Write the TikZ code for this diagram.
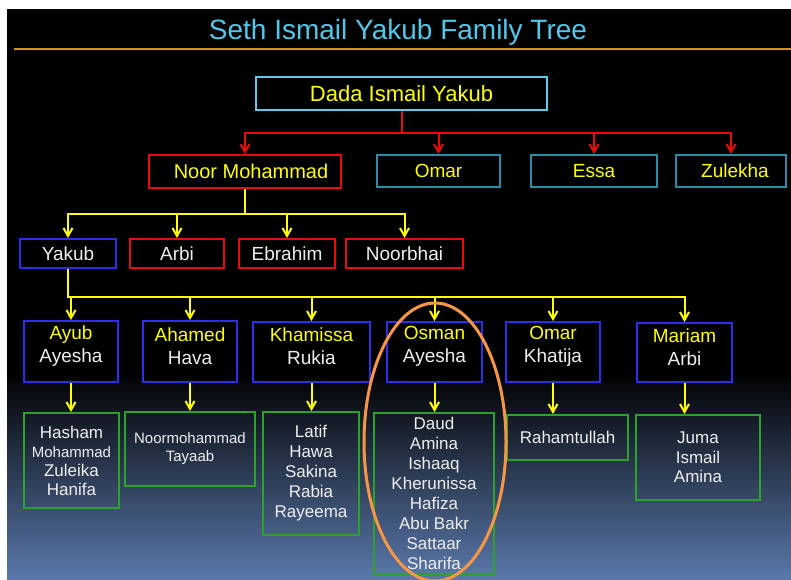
\documentclass[tikz,border=0pt]{standalone}
\usepackage{fontspec}
\setmainfont{Liberation Sans}
\usetikzlibrary{arrows.meta}

\definecolor{titlecyan}{RGB}{80,200,235}
\definecolor{rootcyan}{RGB}{90,205,235}
\definecolor{tealline}{RGB}{40,140,170}
\definecolor{treered}{RGB}{235,10,10}
\definecolor{treeyellow}{RGB}{255,255,0}
\definecolor{treeblue}{RGB}{45,45,235}
\definecolor{treegreen}{RGB}{45,160,45}
\definecolor{namewhite}{RGB}{238,238,238}
\definecolor{ringorange}{RGB}{247,150,70}
\definecolor{goldrule}{RGB}{205,150,25}
\definecolor{slatebottom}{RGB}{90,120,170}

\tikzset{every picture/.style={line width=0.75pt}}
\tikzset{
  famebox/.style={draw, line width=2, inner sep=0pt, align=center},
  rootbox/.style={famebox, draw=rootcyan, text=treeyellow, font=\fontsize{22}{26}\selectfont},
  sonbox/.style={famebox, draw=tealline, text=treeyellow, font=\fontsize{19}{23}\selectfont},
  noorbox/.style={famebox, draw=treered, text=treeyellow, font=\fontsize{20}{24}\selectfont},
  kinbox/.style={famebox, text=namewhite, font=\fontsize{19}{23}\selectfont},
  couplebox/.style={famebox, draw=treeblue},
  couplename/.style={inner sep=0pt, align=center, text=namewhite, font=\fontsize{19}{23}\selectfont},
  kidbox/.style={famebox, draw=treegreen, text=namewhite, font=\fontsize{17}{20}\selectfont},
  redlink/.style={draw=treered, line width=2, -{Straight Barb[length=8pt,width=9pt]}},
  yellink/.style={draw=treeyellow, line width=2, -{Straight Barb[length=8pt,width=9pt]}}
}

\begin{document}
\begin{tikzpicture}[x=1pt,y=-1pt]
\useasboundingbox (0,0) rectangle (791,579);
\fill[white] (0,0) rectangle (791,579);

%Shape: Background
\fill[black] (7,9) rectangle (791,579);
\shade[top color=black, bottom color=slatebottom] (7,372) rectangle (791,579);
%Straight Lines: title rule
\draw[goldrule, line width=1.5] (14,49) -- (791,49);

% Text Node
\node[inner sep=0pt, text=titlecyan, font=\fontsize{28}{32}\selectfont] (title) at (398,32) {Seth Ismail Yakub Family Tree};

%Shape: Rectangle -- first generation
\node[rootbox, minimum width=291, minimum height=33] (dada) at (401.5,93.5) {Dada Ismail Yakub};

%Shape: Rectangle -- second generation
\node[noorbox, minimum width=192, minimum height=33] (noor) at (245,171.5) {\hspace{12pt}Noor Mohammad};
\node[sonbox, minimum width=123, minimum height=32] (omar) at (438.5,171) {Omar};
\node[sonbox, minimum width=126, minimum height=32] (essa) at (594,171) {Essa};
\node[sonbox, minimum width=110, minimum height=32] (zulekha) at (731,171) {\hspace{8pt}Zulekha};

%Shape: Rectangle -- third generation
\node[kinbox, draw=treeblue, minimum width=96, minimum height=29] (yakub) at (68,253.5) {Yakub};
\node[kinbox, draw=treered, minimum width=94, minimum height=29] (arbi) at (177,253.5) {Arbi};
\node[kinbox, draw=treered, minimum width=96, minimum height=29] (ebrahim) at (287,253.5) {Ebrahim};
\node[kinbox, draw=treered, minimum width=117, minimum height=29] (noorbhai) at (404.5,253.5) {Noorbhai};

%Shape: Rectangle -- couples
\node[couplebox, minimum width=94, minimum height=61] (ayub) at (71,351.5) {};
\node[couplebox, minimum width=94, minimum height=61] (ahamed) at (190,351.5) {};
\node[couplebox, minimum width=117, minimum height=60] (khamissa) at (311.5,352) {};
\node[couplebox, minimum width=95, minimum height=60] (osman) at (434.5,352) {};
\node[couplebox, minimum width=94, minimum height=60] (omarkh) at (553,352) {};
\node[couplebox, minimum width=95, minimum height=59] (mariam) at (684.5,352.5) {};

% Text Node
\node[couplename] (ayubtxt) at (71,346) {\textcolor{treeyellow}{Ayub}\\Ayesha};
\node[couplename] (ahamedtxt) at (190,346) {\textcolor{treeyellow}{Ahamed}\\Hava};
\node[couplename] (khamissatxt) at (311.5,346) {\textcolor{treeyellow}{Khamissa}\\Rukia};
\node[couplename] (osmantxt) at (434.5,346) {\textcolor{treeyellow}{Osman}\\Ayesha};
\node[couplename] (omarkhtxt) at (553,346) {\textcolor{treeyellow}{Omar}\\Khatija};
\node[couplename] (mariamtxt) at (684.5,347) {\textcolor{treeyellow}{Mariam}\\Arbi};

%Shape: Rectangle -- children
\node[kidbox, font=\fontsize{17}{19}\selectfont, minimum width=95, minimum height=95] (hasham) at (71.5,460.5)
  {Hasham\\{\fontsize{15}{19}\selectfont Mohammad}\\Zuleika\\Hanifa};
\node[kidbox, font=\fontsize{15}{18}\selectfont, minimum width=130, minimum height=74] (noormo) at (190,449)
  {Noormohammad\\Tayaab};
\node[kidbox, minimum width=96, minimum height=123] (latif) at (311,473.5)
  {Latif\\Hawa\\Sakina\\Rabia\\Rayeema};
\node[kidbox, minimum width=120, minimum height=161] (daud) at (434,493.5)
  {Daud\\Amina\\Ishaaq\\Kherunissa\\Hafiza\\Abu Bakr\\Sattaar\\Sharifa};
\node[kidbox, minimum width=121, minimum height=45] (rahamt) at (567.5,437.5) {Rahamtullah};
\node[kidbox, font=\fontsize{17}{19.5}\selectfont, minimum width=124, minimum height=85] (juma) at (698,457.5)
  {Juma\\Ismail\\Amina};

%Straight Lines -- red links
\foreach \kid in {noor,omar,essa,zulekha}
  \draw[redlink] (dada.south) -- ++(0,22) -| (\kid.north);

%Straight Lines -- yellow links
\foreach \kid in {yakub,arbi,ebrahim,noorbhai}
  \draw[yellink] (noor.south) -- ++(0,25) -| (\kid.north);
\foreach \kid in {ayub,ahamed,khamissa,osman,omarkh,mariam}
  \draw[yellink] (yakub.south) -- ++(0,28) -| (\kid.north);
\draw[yellink] (ayub.south) -- (ayub.south |- hasham.north);
\draw[yellink] (ahamed.south) -- (ahamed.south |- noormo.north);
\draw[yellink] (khamissa.south) -- (khamissa.south |- latif.north);
\draw[yellink] (osman.south) -- (osman.south |- daud.north);
\draw[yellink] (omarkh.south) -- (omarkh.south |- rahamt.north);
\draw[yellink] (mariam.south) -- (mariam.south |- juma.north);

%Shape: Ellipse
\draw[ringorange, line width=3] (435,442) ellipse [x radius=71, y radius=139];

\end{tikzpicture}
\end{document}
